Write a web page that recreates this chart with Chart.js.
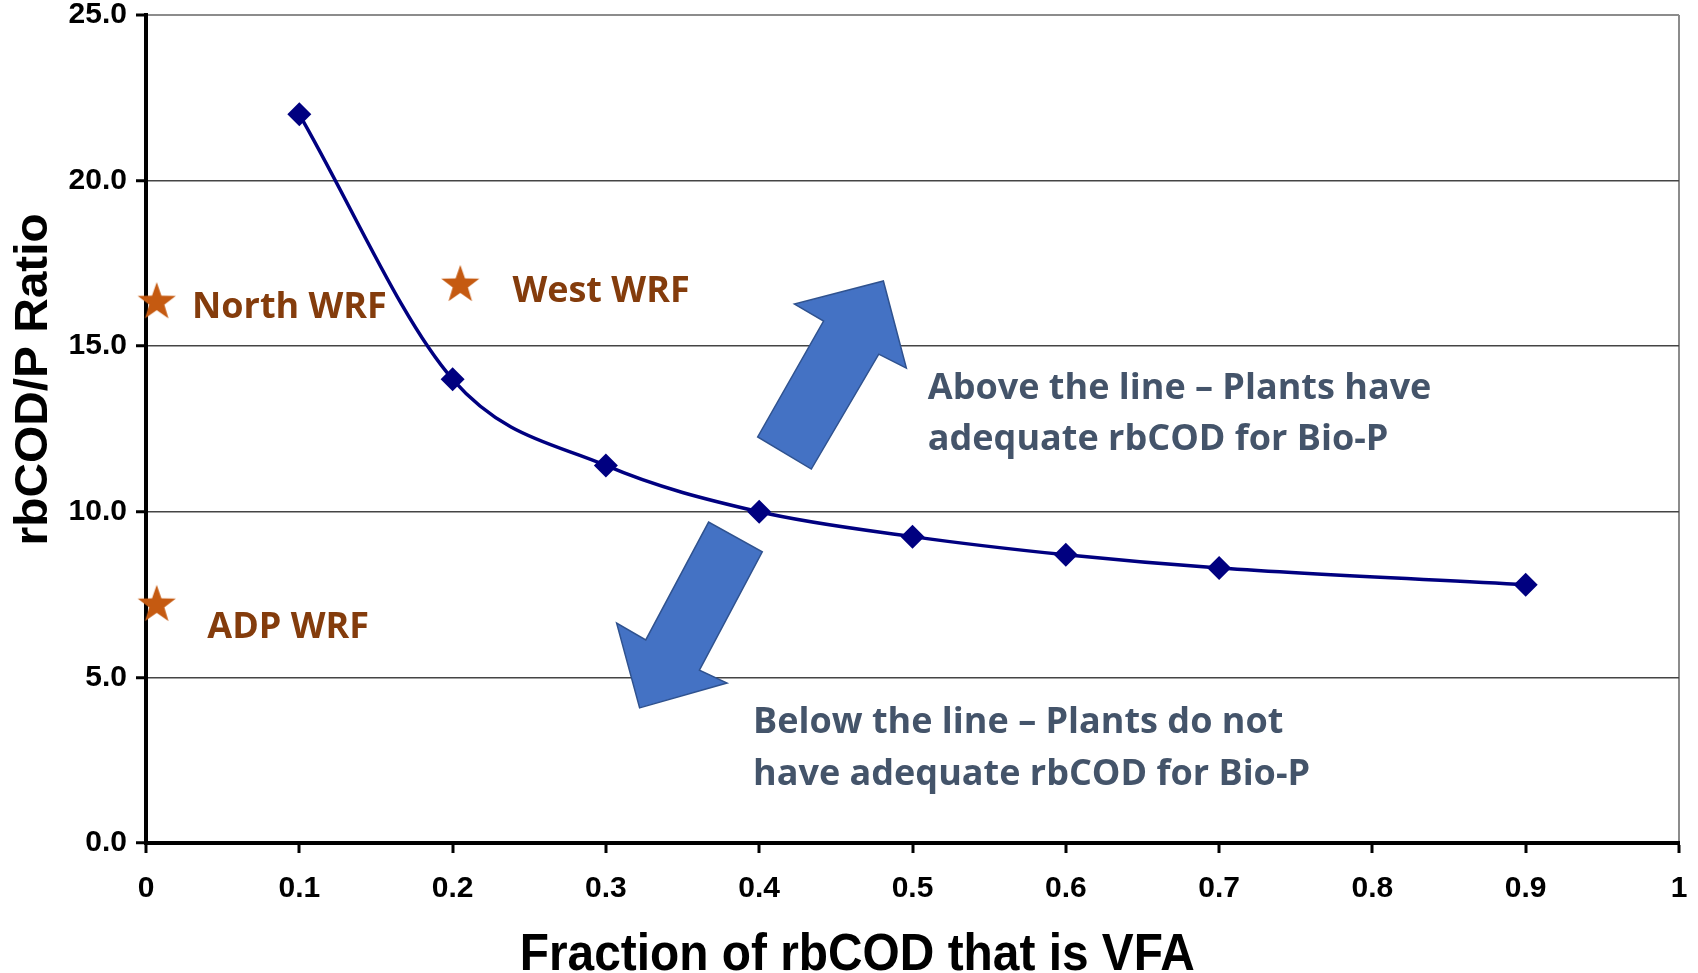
<!DOCTYPE html>
<html>
<head>
<meta charset="utf-8">
<title>rbCOD/P Ratio vs Fraction of rbCOD that is VFA</title>
<script src="https://cdn.jsdelivr.net/npm/chart.js@4.4.1/dist/chart.umd.min.js"></script>
<style>
  html, body { margin: 0; padding: 0; background: #fff; }
  #wrap { width: 1698px; height: 973px; position: relative; }
</style>
</head>
<body>
<div id="wrap"><canvas id="myChart"></canvas></div>
<script>
// design curve
const vfaFraction = [0.1, 0.2, 0.3, 0.4, 0.5, 0.6, 0.7, 0.9];
const rbcodRatio = [22.0, 14.0, 11.4, 10.0, 9.25, 8.7, 8.3, 7.8];

// plants
const plantNames = ['North WRF', 'West WRF', 'ADP WRF'];
const plantFraction = [0.007, 0.205, 0.007];
const plantRatio = [16.33, 16.85, 7.19];

// axis ticks
const yTicks = [0, 5, 10, 15, 20, 25];
const xTicks = [0, 0.1, 0.2, 0.3, 0.4, 0.5, 0.6, 0.7, 0.8, 0.9, 1];

const noteAbove = ['Above the line – Plants have', 'adequate rbCOD for Bio-P'];
const noteBelow = ['Below the line – Plants do not', 'have adequate rbCOD for Bio-P'];

Chart.defaults.font.family = 'Liberation Sans';

// filled five point star used as point style
function makeStar(r, color) {
  const c = document.createElement('canvas');
  c.width = c.height = r * 2 + 2;
  const g = c.getContext('2d');
  g.fillStyle = color;
  g.beginPath();
  for (let i = 0; i < 10; i++) {
    const rad = i % 2 ? r * 0.4 : r;
    const a = -Math.PI / 2 + i * Math.PI / 5;
    const px = r + 1 + rad * Math.cos(a);
    const py = r + 1 + rad * Math.sin(a);
    if (i === 0) g.moveTo(px, py); else g.lineTo(px, py);
  }
  g.closePath();
  g.fill();
  return c;
}
const starImg = makeStar(20, '#C55A11');

// annotation shapes, in data units
const upArrow = [[0.481, 16.97], [0.496, 14.34], [0.478, 14.76], [0.434, 11.29], [0.399, 12.26], [0.442, 15.76], [0.423, 16.27]];
const downArrow = [[0.322, 4.08], [0.379, 4.83], [0.361, 5.22], [0.402, 8.79], [0.367, 9.69], [0.326, 6.13], [0.307, 6.64]];
const plantLabelAt = [[0.030, 16.15], [0.239, 16.64], [0.040, 6.49]];

const notes = {
  id: 'notes',
  beforeDatasetsDraw(chart) {
    const ctx = chart.ctx, xs = chart.scales.x, ys = chart.scales.y;
    ctx.save();
    [upArrow, downArrow].forEach(shape => {
      ctx.beginPath();
      shape.forEach((p, i) => {
        const px = xs.getPixelForValue(p[0]), py = ys.getPixelForValue(p[1]);
        if (i === 0) ctx.moveTo(px, py); else ctx.lineTo(px, py);
      });
      ctx.closePath();
      ctx.fillStyle = '#4472C4';
      ctx.fill();
      ctx.lineWidth = 1.5;
      ctx.strokeStyle = '#2F528F';
      ctx.stroke();
    });
    ctx.restore();
  },
  afterDatasetsDraw(chart) {
    const ctx = chart.ctx, xs = chart.scales.x, ys = chart.scales.y;
    ctx.save();
    ctx.textBaseline = 'middle';
    ctx.textAlign = 'left';
    ctx.font = 'bold 36px "Open Sans"';
    ctx.fillStyle = '#843C0C';
    plantNames.forEach((n, i) => {
      ctx.fillText(n, xs.getPixelForValue(plantLabelAt[i][0]), ys.getPixelForValue(plantLabelAt[i][1]));
    });
    ctx.fillStyle = '#44546A';
    noteAbove.forEach((t, i) => ctx.fillText(t, xs.getPixelForValue(0.510), ys.getPixelForValue(13.71 - i * 1.52)));
    noteBelow.forEach((t, i) => ctx.fillText(t, xs.getPixelForValue(0.396), ys.getPixelForValue(3.62 - i * 1.56)));

    // axis titles
    ctx.fillStyle = '#000';
    ctx.textAlign = 'center';
    ctx.font = 'bold 52px "Liberation Sans"';
    ctx.save();
    ctx.translate(xs.getPixelForValue(0.464), 956);
    ctx.scale(0.92, 1);
    ctx.fillText('Fraction of rbCOD that is VFA', 0, 0);
    ctx.restore();
    ctx.font = 'bold 46px "Liberation Sans"';
    ctx.translate(34, ys.getPixelForValue(14.0));
    ctx.rotate(-Math.PI / 2);
    ctx.scale(1.04, 1);
    ctx.fillText('rbCOD/P Ratio', 0, 0);
    ctx.restore();
  }
};

const ctx = document.getElementById('myChart');
new Chart(ctx, {
  type: 'line',
  data: {
    datasets: [{
      data: vfaFraction.map((v, i) => ({ x: v, y: rbcodRatio[i] })),
      borderColor: '#000080',
      backgroundColor: '#000080',
      borderWidth: 3.5,
      cubicInterpolationMode: 'monotone',
      pointStyle: 'rectRot',
      pointRadius: 12,
      pointBorderWidth: 0,
      clip: false
    }, {
      data: plantFraction.map((v, i) => ({ x: v, y: plantRatio[i] })),
      showLine: false,
      pointStyle: starImg,
      clip: false
    }]
  },
  options: {
    responsive: true,
    maintainAspectRatio: false,
    animation: false,
    layout: { padding: { left: 0, right: 19, top: 15, bottom: 0 } },
    plugins: { legend: { display: false }, tooltip: { enabled: false } },
    scales: {
      x: {
        type: 'linear',
        min: 0,
        max: 1,
        afterFit: s => { s.height = 130; s.paddingLeft = 0; s.paddingRight = 0; },
        afterBuildTicks: s => { s.ticks = xTicks.map(v => ({ value: v })); },
        border: { color: '#000', width: 4 },
        grid: {
          color: c => c.tick && c.tick.value === 1 ? '#8c8c8c' : 'rgba(0,0,0,0)',
          lineWidth: 2,
          tickColor: '#000',
          tickWidth: 3,
          tickLength: 10
        },
        ticks: {
          color: '#000',
          padding: 18,
          maxRotation: 0,
          font: { family: 'Liberation Sans', size: 30, weight: 'bold' },
          callback: v => String(Math.round(v * 10) / 10)
        }
      },
      y: {
        min: 0,
        max: 25,
        afterFit: s => { s.width = 146; s.paddingTop = 0; s.paddingBottom = 0; },
        afterBuildTicks: s => { s.ticks = yTicks.map(v => ({ value: v })); },
        border: { color: '#000', width: 4 },
        grid: {
          color: c => c.tick && c.tick.value === 25 ? '#8c8c8c' : '#444',
          lineWidth: c => c.tick && c.tick.value === 25 ? 2 : 1.5,
          tickColor: '#000',
          tickWidth: 3,
          tickLength: 10
        },
        ticks: {
          color: '#000',
          padding: 9,
          font: { family: 'Liberation Sans', size: 30, weight: 'bold' },
          callback: v => v.toFixed(1)
        }
      }
    }
  },
  plugins: [notes]
});
</script>
</body>
</html>
